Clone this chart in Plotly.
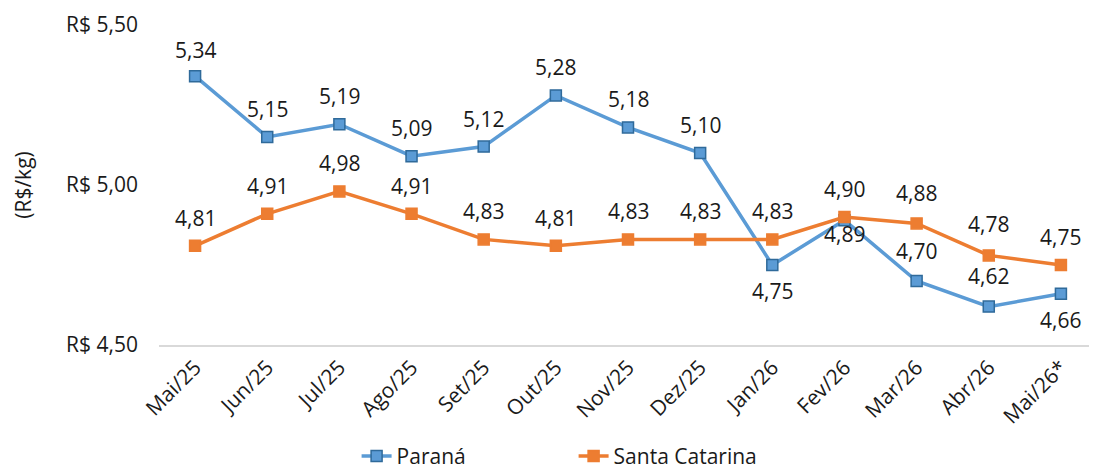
import plotly.graph_objects as go

months = ["Mai/25", "Jun/25", "Jul/25", "Ago/25", "Set/25", "Out/25", "Nov/25",
          "Dez/25", "Jan/26", "Fev/26", "Mar/26", "Abr/26", "Mai/26*"]
parana = [5.34, 5.15, 5.19, 5.09, 5.12, 5.28, 5.18, 5.10, 4.75, 4.89, 4.70, 4.62, 4.66]
santa_catarina = [4.81, 4.91, 4.98, 4.91, 4.83, 4.81, 4.83, 4.83, 4.83, 4.90, 4.88, 4.78, 4.75]
y_ticks = [4.50, 5.00, 5.50]
y_tick_labels = ["R$ 4,50", "R$ 5,00", "R$ 5,50"]

# label offsets (px, positive = above)
parana_shift = [26, 28, 28, 28, 28, 28, 28, 28, -26, -14, 30, 31, -26]
sc_shift = [28, 28, 28, 28, 28, 28, 28, 28, 28, 28, 30, 31, 28]

FONT = "Open Sans"
FS = 21
TXT = "#1a1a1a"
BLUE = "#5b9bd5"
ORANGE = "#ed7d31"

fig = go.Figure()
fig.add_trace(go.Scatter(
    x=months, y=parana, name="Paraná", mode="lines+markers",
    line=dict(color=BLUE, width=3.5),
    marker=dict(symbol="square", size=11, color=BLUE, line=dict(color="#2f6a9a", width=1.5)),
))
fig.add_trace(go.Scatter(
    x=months, y=santa_catarina, name="Santa Catarina", mode="lines+markers",
    line=dict(color=ORANGE, width=3.5),
    marker=dict(symbol="square", size=11, color=ORANGE, line=dict(color=ORANGE, width=1.5)),
))

def fmt(v):
    return f"{v:.2f}".replace(".", ",")

annotations = []
for series, shifts in ((parana, parana_shift), (santa_catarina, sc_shift)):
    for m, v, s in zip(months, series, shifts):
        annotations.append(dict(x=m, y=v, text=fmt(v), showarrow=False, yshift=s,
                                font=dict(family=FONT, size=FS, color=TXT)))

fig.update_layout(
    width=1089, height=462,
    margin=dict(l=151, r=0, t=17, b=125, autoexpand=False),
    paper_bgcolor="white", plot_bgcolor="white",
    font=dict(family=FONT, size=FS, color=TXT),
    showlegend=True,
    legend=dict(orientation="h", x=0.442, xanchor="center", y=-0.348, yanchor="middle",
                font=dict(family=FONT, size=FS, color=TXT), entrywidth=172),
    annotations=annotations,
)
fig.update_xaxes(
    type="category", range=[-0.5, 12.5], showgrid=False, showline=True,
    linecolor="#d9d9d9", linewidth=2, tickangle=-45, ticks="", automargin=False,
    tickfont=dict(family=FONT, size=FS, color=TXT), zeroline=False,
)
fig.update_yaxes(
    range=[4.5, 5.5], tickvals=y_ticks, ticktext=y_tick_labels, showgrid=False,
    showline=False, zeroline=False, ticks="", ticklabelstandoff=20, automargin=False,
    tickfont=dict(family=FONT, size=FS, color=TXT),
    title=dict(text="(R$/kg)", font=dict(family=FONT, size=FS, color=TXT), standoff=28),
)

fig.write_html("out.html")
